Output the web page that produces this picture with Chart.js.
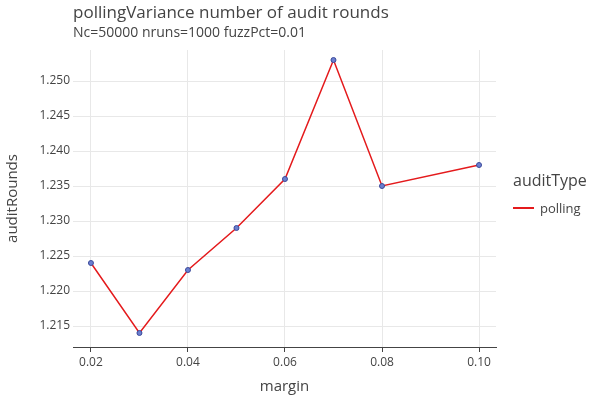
<!DOCTYPE html>
<html>
<head>
<script src="https://cdn.jsdelivr.net/npm/chart.js@4"></script>
<style>body{margin:0;background:#fff}</style>
</head>
<body>
<canvas id="c" width="600" height="400"></canvas>
<script>
const margins = [0.02, 0.03, 0.04, 0.05, 0.06, 0.07, 0.08, 0.10];
const auditRounds = [1.224, 1.214, 1.223, 1.229, 1.236, 1.253, 1.235, 1.238];
const xTicks = [0.02, 0.04, 0.06, 0.08, 0.10];
const yTicks = [1.215, 1.22, 1.225, 1.23, 1.235, 1.24, 1.245, 1.25];

const font = "'Open Sans', sans-serif";

const overlay = {
    id: "overlay",
    afterDraw(chart) {
        const ctx = chart.ctx;
        ctx.save();
        ctx.fillStyle = "#444";
        ctx.textBaseline = "alphabetic";
        ctx.textAlign = "left";
        ctx.font = "17px " + font;
        ctx.fillText("pollingVariance number of audit rounds", 73, 18);
        ctx.font = "14px " + font;
        ctx.fillText("Nc=50000 nruns=1000 fuzzPct=0.01", 73, 37);
        ctx.font = "16px " + font;
        ctx.fillText("auditType", 513, 186);
        ctx.font = "13px " + font;
        ctx.fillText("polling", 540, 213);
        ctx.strokeStyle = "#e41a1c";
        ctx.lineWidth = 2;
        ctx.beginPath();
        ctx.moveTo(513, 208);
        ctx.lineTo(534, 208);
        ctx.stroke();
        ctx.restore();
    }
};

new Chart(document.getElementById("c"), {
    type: "line",
    data: {
        datasets: [{
            label: "polling",
            data: margins.map((m, i) => ({ x: m, y: auditRounds[i] })),
            borderColor: "#e41a1c",
            borderWidth: 1.5,
            pointRadius: 2.5,
            pointBackgroundColor: "#6b7fd0",
            pointBorderColor: "#3b4a9a",
            pointBorderWidth: 1,
            tension: 0
        }]
    },
    options: {
        responsive: false,
        animation: false,
        layout: { padding: { top: 50, right: 104, left: 0, bottom: 0 } },
        plugins: { legend: { display: false }, tooltip: { enabled: false } },
        scales: {
            x: {
                type: "linear",
                min: 0.0163,
                max: 0.1035,
                afterBuildTicks: s => { s.ticks = xTicks.map(v => ({ value: v })); },
                afterFit: s => { s.height = 53; },
                ticks: { color: "#444", font: { family: font, size: 12 }, callback: v => v.toFixed(2), maxRotation: 0 },
                grid: { color: "#e8e8e8", drawTicks: true, tickLength: 5, tickColor: "#444" },
                border: { display: true, color: "#444" },
                title: { display: true, text: "margin", color: "#444", font: { family: font, size: 15 }, padding: { top: 12 } }
            },
            y: {
                min: 1.212,
                max: 1.25443,
                afterBuildTicks: s => { s.ticks = yTicks.map(v => ({ value: v })); },
                afterFit: s => { s.width = 73; },
                ticks: { color: "#444", font: { family: font, size: 12 }, callback: v => v.toFixed(3) },
                grid: { color: "#e8e8e8", drawTicks: false },
                border: { display: false },
                title: { display: true, text: "auditRounds", color: "#444", font: { family: font, size: 15 } }
            }
        }
    },
    plugins: [overlay]
});
</script>
</body>
</html>
